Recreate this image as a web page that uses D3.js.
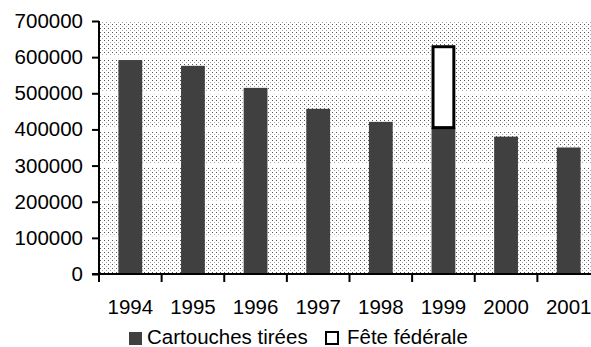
<!DOCTYPE html>
<html lang="fr">
<head>
  <meta charset="UTF-8">
  <title>Cartouches tirées</title>
  <script src="https://d3js.org/d3.v7.min.js"></script>
  <style>
    body { margin: 0; background: #fff; font-family: "Liberation Sans", Arial, sans-serif; }
  </style>
</head>
<body>
  <div id="chart"></div>
  <script>
    // Data
    const years = ["1994", "1995", "1996", "1997", "1998", "1999", "2000", "2001"];
    const cartouches = [592000, 576000, 515000, 457000, 421000, 405000, 380000, 350000];
    const fete = [0, 0, 0, 0, 0, 228000, 0, 0];
    const yTicks = [0, 100000, 200000, 300000, 400000, 500000, 600000, 700000];
    const seriesNames = ["Cartouches tirées", "Fête fédérale"];

    const width = 591, height = 347;
    const plotLeft = 99, plotRight = 600, plotTop = 21, plotBottom = 274;
    const fontSize = 20.5;

    const svg = d3.select("#chart").append("svg")
        .attr("width", width)
        .attr("height", height);

    // dotted background pattern
    const pat = svg.append("defs").append("pattern")
        .attr("id", "dots")
        .attr("patternUnits", "userSpaceOnUse")
        .attr("width", 4).attr("height", 4);
    pat.append("rect").attr("width", 4).attr("height", 4).attr("fill", "#fff");
    pat.append("rect").attr("x", 0).attr("y", 0).attr("width", 1).attr("height", 1).attr("fill", "#555");
    pat.append("rect").attr("x", 2).attr("y", 2).attr("width", 1).attr("height", 1).attr("fill", "#aaa");

    const x = d3.scaleBand().domain(years).range([plotLeft, plotRight]).paddingInner(0.62).paddingOuter(0.31);
    const xCat = d3.scaleBand().domain(years).range([plotLeft, plotRight]).padding(0);
    const y = d3.scaleLinear().domain([0, 700000]).range([plotBottom, plotTop]);

    svg.append("rect")
        .attr("x", plotLeft).attr("y", plotTop)
        .attr("width", plotRight - plotLeft).attr("height", plotBottom - plotTop)
        .attr("fill", "url(#dots)");

    // white gridlines
    svg.append("g")
      .selectAll("line")
      .data(yTicks.slice(1, -1))
      .join("line")
        .attr("x1", plotLeft).attr("x2", plotRight)
        .attr("y1", d => y(d)).attr("y2", d => y(d))
        .attr("stroke", "#fff").attr("stroke-width", 3);

    // bars
    svg.append("g")
      .selectAll("rect")
      .data(years)
      .join("rect")
        .attr("x", d => x(d))
        .attr("y", (d, i) => y(cartouches[i]))
        .attr("width", x.bandwidth())
        .attr("height", (d, i) => y(0) - y(cartouches[i]))
        .attr("fill", "#404040");

    svg.append("g")
      .selectAll("rect")
      .data(years.filter((d, i) => fete[i] > 0))
      .join("rect")
        .attr("x", d => x(d) + 1.5)
        .attr("y", d => { const i = years.indexOf(d); return y(cartouches[i] + fete[i]) + 1.5; })
        .attr("width", x.bandwidth() - 3)
        .attr("height", d => { const i = years.indexOf(d); return y(cartouches[i]) - y(cartouches[i] + fete[i]) - 1.5; })
        .attr("fill", "#fff")
        .attr("stroke", "#000")
        .attr("stroke-width", 3);

    // y axis
    const yAxis = svg.append("g")
        .attr("transform", `translate(${plotLeft},0)`)
        .call(d3.axisLeft(y).tickValues(yTicks).tickFormat(d3.format("d")).tickSize(7).tickPadding(9));
    yAxis.select(".domain").attr("stroke-width", 2).attr("d", `M0,${plotTop}V${plotBottom}`);
    yAxis.selectAll(".tick line").attr("stroke-width", 2);
    yAxis.selectAll("text").attr("font-size", fontSize).attr("font-family", "Liberation Sans, Arial, sans-serif").attr("fill", "#000");

    // x axis
    const xAxis = svg.append("g")
        .attr("transform", `translate(0,${plotBottom})`);
    xAxis.append("line")
        .attr("x1", plotLeft - 7).attr("x2", plotRight)
        .attr("stroke", "#000").attr("stroke-width", 2);
    xAxis.selectAll(".tk")
      .data(years)
      .join("line")
        .attr("class", "tk")
        .attr("x1", d => xCat(d)).attr("x2", d => xCat(d))
        .attr("y1", 0).attr("y2", 8)
        .attr("stroke", "#000").attr("stroke-width", 2);
    xAxis.selectAll("text")
      .data(years)
      .join("text")
        .attr("x", d => xCat(d) + xCat.bandwidth() / 2)
        .attr("y", 40)
        .attr("text-anchor", "middle")
        .attr("font-size", fontSize)
        .text(d => d);

    // legend
    const legend = svg.append("g");
    legend.append("rect").attr("x", 129).attr("y", 332).attr("width", 13).attr("height", 13).attr("fill", "#404040");
    legend.append("text").attr("x", 147).attr("y", 344).attr("font-size", fontSize).text(seriesNames[0]);
    legend.append("rect").attr("x", 326).attr("y", 332).attr("width", 12).attr("height", 12)
        .attr("fill", "#fff").attr("stroke", "#000").attr("stroke-width", 2);
    legend.append("text").attr("x", 347).attr("y", 344).attr("font-size", fontSize).text(seriesNames[1]);
  </script>
</body>
</html>
